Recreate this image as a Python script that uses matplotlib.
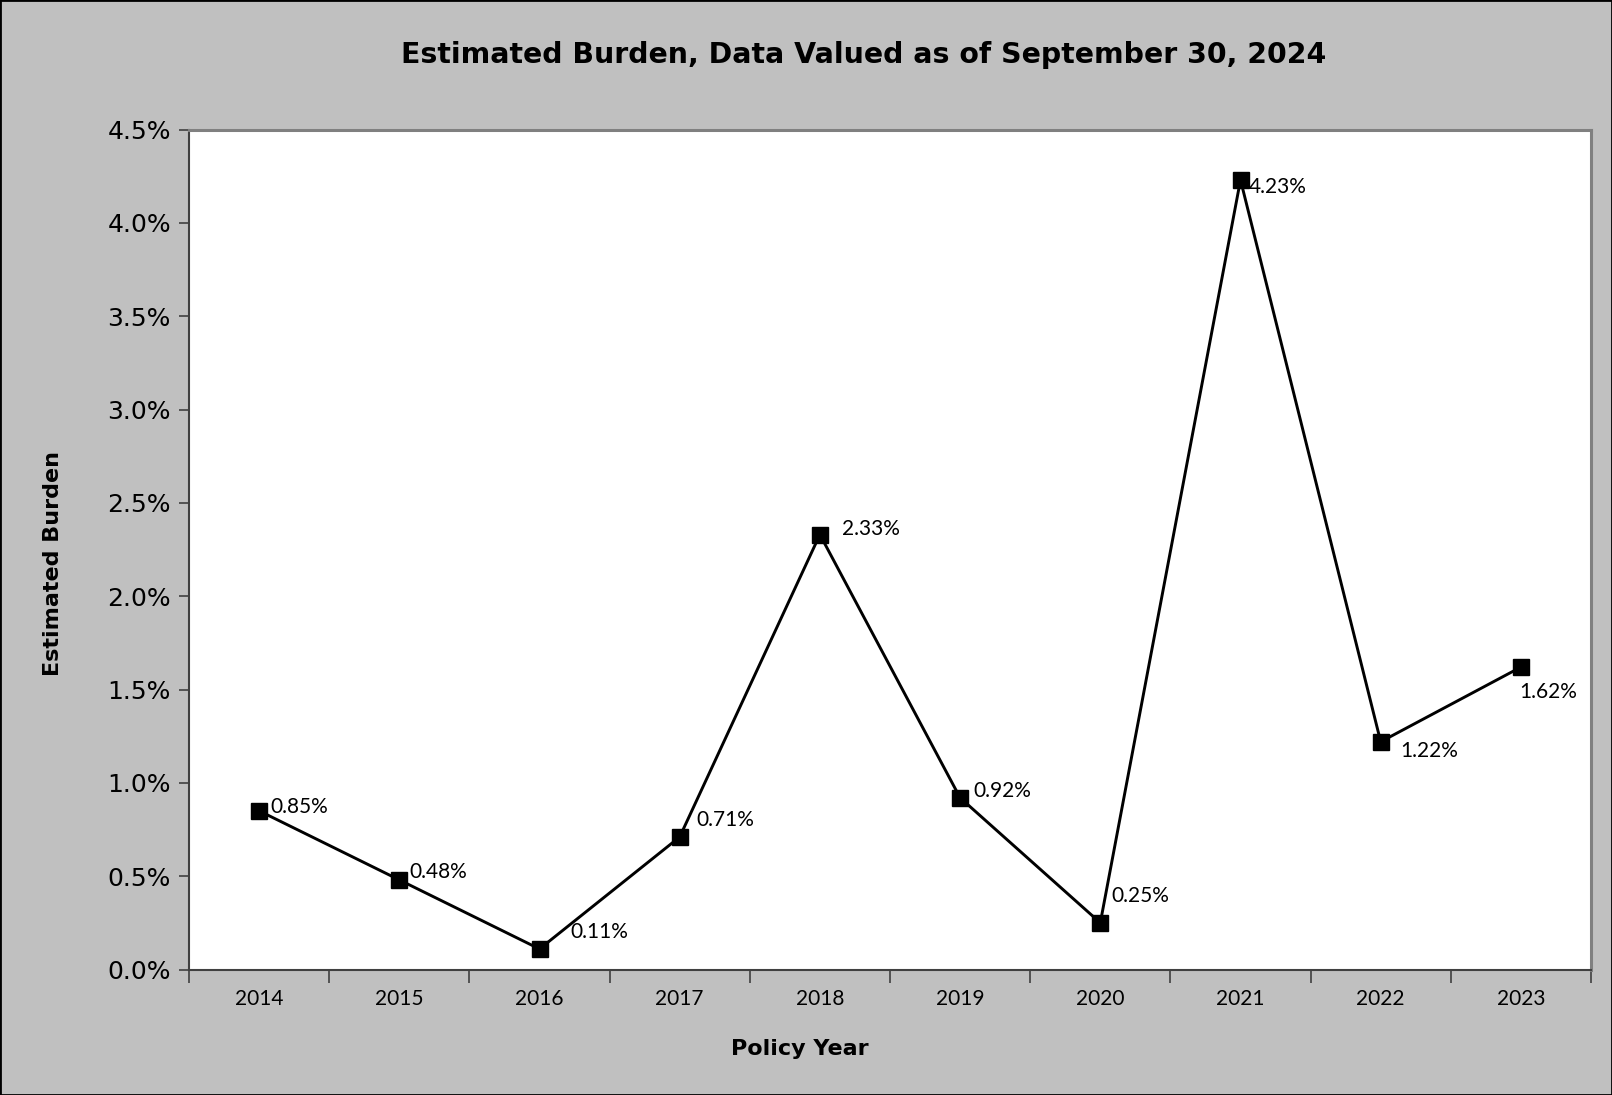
import matplotlib
matplotlib.use("Agg")
import matplotlib.pyplot as plt
from matplotlib.ticker import PercentFormatter, FixedLocator, NullFormatter
from matplotlib.patches import Rectangle

# ---- data ----
years = ["2014", "2015", "2016", "2017", "2018", "2019", "2020", "2021", "2022", "2023"]
burden_pct = [0.85, 0.48, 0.11, 0.71, 2.33, 0.92, 0.25, 4.23, 1.22, 1.62]
value_labels = ["0.85%", "0.48%", "0.11%", "0.71%", "2.33%", "0.92%", "0.25%", "4.23%", "1.22%", "1.62%"]
title = "Estimated Burden, Data Valued as of September 30, 2024"
xlabel = "Policy Year"
ylabel = "Estimated Burden"

# label offsets in pixels (style only)
label_offsets = [(11, 4), (10, 8), (31, 17), (17, 17), (22, 6), (13, 7), (11, 27), (8, -7), (20, -9), (-2, -25)]

W, H, DPI = 1612, 1095, 100
fig = plt.figure(figsize=(W / DPI, H / DPI), dpi=DPI, facecolor="#C0C0C0")
fig.patches.append(Rectangle((0, 0), 1, 1, transform=fig.transFigure, fill=False,
                             edgecolor="black", linewidth=2.0, zorder=10))

left, right, top, bottom = 189, 1591, 129.5, 969.5
ax = fig.add_axes([left / W, 1 - bottom / H, (right - left) / W, (bottom - top) / H])
ax.set_facecolor("white")

x = list(range(1, len(years) + 1))
ax.plot(x, burden_pct, color="black", linewidth=2.1, marker="s", markersize=11,
        markerfacecolor="black", markeredgecolor="black", zorder=3, clip_on=False)

for xi, yi, lab, (dx, dy) in zip(x, burden_pct, value_labels, label_offsets):
    ax.annotate(lab, (xi, yi), xytext=(dx, dy), textcoords="offset pixels",
                ha="left", va="center", fontsize=15, family="Lato", color="black")

ax.set_xlim(0.5, len(years) + 0.5)
ax.set_ylim(0, 4.5)
ax.yaxis.set_major_locator(FixedLocator([i * 0.5 for i in range(10)]))
ax.yaxis.set_major_formatter(PercentFormatter(decimals=1))
ax.tick_params(axis="y", labelsize=18, length=7, width=1.2, color="#404040", pad=6)
for t in ax.get_yticklabels():
    t.set_family("DejaVu Sans")

# x ticks at category boundaries, labels at centers
ax.xaxis.set_major_locator(FixedLocator([i + 0.5 for i in range(len(years) + 1)]))
ax.xaxis.set_major_formatter(NullFormatter())
ax.xaxis.set_minor_locator(FixedLocator(x))
ax.set_xticklabels(years, minor=True)
ax.tick_params(axis="x", which="major", length=9, width=1.2, color="#404040")
ax.tick_params(axis="x", which="minor", length=0, labelsize=15, pad=14)
for t in ax.get_xticklabels(minor=True):
    t.set_family("Lato")

for s in ["left", "bottom"]:
    ax.spines[s].set_color("#404040")
    ax.spines[s].set_linewidth(1.5)
for s in ["top", "right"]:
    ax.spines[s].set_color("#808080")
    ax.spines[s].set_linewidth(2.2)

fig.text(864 / W, 1 - 55 / H, title, ha="center", va="center",
         fontsize=20.4, fontweight="bold", family="DejaVu Sans")
fig.text(800 / W, 1 - 1049 / H, xlabel, ha="center", va="center",
         fontsize=16, fontweight="bold", family="DejaVu Sans")
fig.text(53.5 / W, 1 - 563 / H, ylabel, ha="center", va="center", rotation=90,
         fontsize=16, fontweight="bold", family="DejaVu Sans")

fig.savefig("out.png", dpi=DPI, facecolor=fig.get_facecolor())
